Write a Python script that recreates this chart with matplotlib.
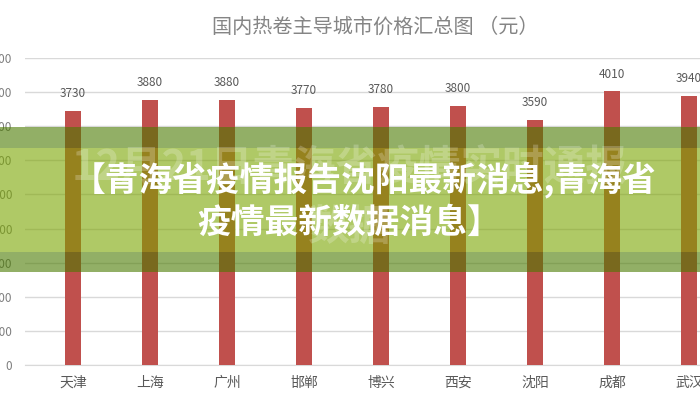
import matplotlib.pyplot as plt
from matplotlib.patches import Rectangle

plt.rcParams['font.family'] = ['Noto Sans CJK SC', 'DejaVu Sans']

cities = ['天津', '上海', '广州', '邯郸', '博兴', '西安', '沈阳', '成都', '武汉']
prices = [3730, 3880, 3880, 3770, 3780, 3800, 3590, 4010, 3940]
yticks = [0, 500, 1000, 1500, 2000, 2500, 3000, 3500, 4000, 4500]

title = '国内热卷主导城市价格汇总图 （元）'
banner_lines = ['【青海省疫情报告沈阳最新消息,青海省', '疫情最新数据消息】']
ghost_lines = ['12月21日青海省疫情实时通报', '数据']

W, H = 700, 400
fig = plt.figure(figsize=(7, 4), dpi=100)
ax = fig.add_axes([25 / W, 1 - 365 / H, 675 / W, 307 / H])

x = list(range(len(cities)))
ax.bar(x, prices, width=0.22, color='#c0504d', zorder=3)
for xi, v in zip(x, prices):
    ax.annotate(str(v), (xi, v), xytext=(0, 12.5), textcoords='offset points',
                ha='center', va='center', fontsize=8.5, color='#595959')

ax.set_xlim(-0.623, 8.143)
ax.set_ylim(0, 4500)
ax.set_yticks(yticks)
ax.set_xticks(x)
ax.set_xticklabels(cities, fontsize=10, color='#595959')
ax.tick_params(axis='x', length=0, pad=8)
ax.tick_params(axis='y', length=0, pad=9, labelsize=8.5, labelcolor='#7f7f7f')
ax.grid(axis='y', color='#d9d9d9', linewidth=1, zorder=0)
for s in ['top', 'right', 'left']:
    ax.spines[s].set_visible(False)
ax.spines['bottom'].set_color('#d9d9d9')

fig.text(375 / W, 1 - 27 / H, title, ha='center', va='center',
         fontsize=14.5, color='#858585')

# green banner over the chart
def band(y0, y1, color, alpha):
    fig.add_artist(Rectangle((0, 1 - y1 / H), 1, (y1 - y0) / H,
                             transform=fig.transFigure, facecolor=color,
                             alpha=alpha, edgecolor='none', zorder=10))

band(127, 148, '#4a7a00', 0.6)
band(252, 272, '#4a7a00', 0.6)
band(148, 252, '#7aa500', 0.6)

fig.text(350 / W, 1 - 168 / H, ghost_lines[0], ha='center', va='center',
         fontsize=30, fontweight='bold', color='white', alpha=0.22, zorder=11)
fig.text(349 / W, 1 - 228 / H, ghost_lines[1], ha='center', va='center',
         fontsize=30, fontweight='bold', color='white', alpha=0.22, zorder=11)

fig.text(364 / W, 1 - 180 / H, banner_lines[0], ha='center', va='center',
         fontsize=24.3, fontweight='bold', color='white', zorder=12)
fig.text(349 / W, 1 - 222 / H, banner_lines[1], ha='center', va='center',
         fontsize=24.3, fontweight='bold', color='white', zorder=12)

fig.savefig('out.png', dpi=100)
